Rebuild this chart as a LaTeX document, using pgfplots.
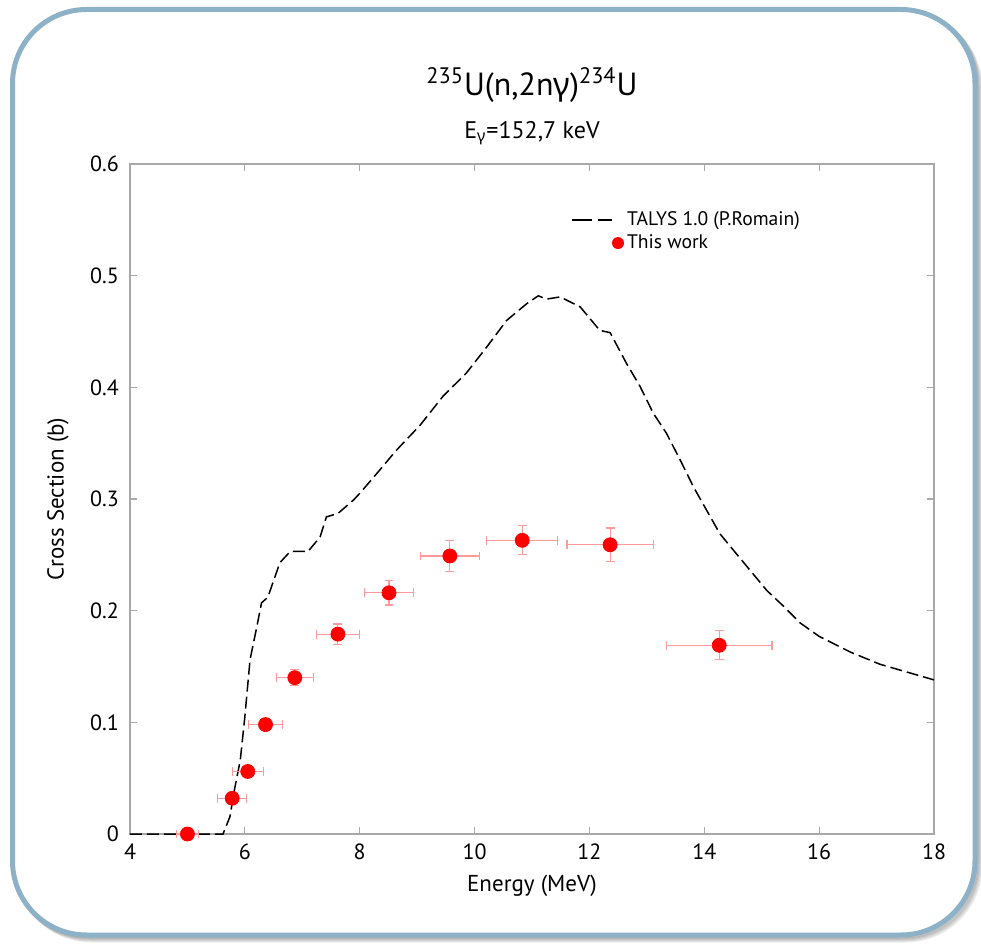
\documentclass[border=0pt]{standalone}
\usepackage{fontspec}
\setmainfont{PT Sans}
\newfontfamily\greekfont{Noto Sans}
\usepackage{pgfplots}
\usepackage{pgfplotstable}
\pgfplotsset{compat=1.18}
\usetikzlibrary{calc}

\definecolor{framecol}{HTML}{8DB1C6}
\definecolor{axgray}{HTML}{A8A8A8}
\definecolor{errred}{HTML}{FF9A9A}

\pgfplotstableread{
x y ex ey
5.00 0.000 0.19 0.002
5.78 0.032 0.25 0.003
6.05 0.056 0.27 0.004
6.36 0.098 0.29 0.005
6.87 0.140 0.32 0.007
7.62 0.179 0.37 0.009
8.51 0.216 0.43 0.011
9.57 0.249 0.51 0.014
10.83 0.263 0.62 0.013
12.36 0.259 0.75 0.015
14.26 0.169 0.92 0.013
}\expdata

\pgfplotstableread{
x y
4.00 0.000
5.62 0.000
5.74 0.0155
5.82 0.040
5.92 0.066
6.00 0.105
6.09 0.156
6.21 0.186
6.29 0.207
6.40 0.212
6.61 0.243
6.79 0.253
7.10 0.253
7.31 0.266
7.42 0.284
7.62 0.287
7.89 0.299
8.00 0.305
8.35 0.326
8.61 0.342
8.70 0.347
9.05 0.366
9.45 0.392
9.86 0.413
10.21 0.436
10.56 0.460
10.91 0.475
11.11 0.482
11.25 0.479
11.49 0.481
11.84 0.472
12.18 0.451
12.36 0.449
12.65 0.421
12.88 0.401
13.11 0.377
13.34 0.359
13.58 0.335
13.81 0.311
14.04 0.290
14.27 0.269
14.51 0.254
14.80 0.236
15.09 0.218
15.38 0.204
15.67 0.189
16.00 0.177
16.54 0.163
17.06 0.152
18.00 0.138
}\talys

\begin{document}
\begin{tikzpicture}
\useasboundingbox (0,0) rectangle (490.5pt,472pt);
% shadow
\foreach \i in {1,...,5}{
  \draw[black, opacity=0.07, line width=2.5pt, rounded corners=37pt]
    ($(6.25pt,4.5pt)+(0.5*\i pt,-0.5*\i pt)$) rectangle ($(487.5pt,467.25pt)+(0.5*\i pt,-0.5*\i pt)$);
}
\draw[framecol, line width=2.5pt, fill=white, rounded corners=37pt]
  (6.25pt,4.5pt) rectangle (487.5pt,467.25pt);

\begin{axis}[
  at={(65pt,55pt)}, anchor=south west,
  scale only axis, width=402pt, height=335pt,
  xmin=4, xmax=18, ymin=0, ymax=0.6,
  xtick={4,6,8,10,12,14,16,18},
  ytick={0,0.1,0.2,0.3,0.4,0.5,0.6},
  yticklabels={0,0.1,0.2,0.3,0.4,0.5,0.6},
  tick align=inside, major tick length=3.5pt,
  axis line style={axgray, line width=0.6pt},
  tick style={axgray, line width=0.6pt},
  ticklabel style={font=\fontsize{11}{13}\selectfont, black},
  /pgf/number format/assume math mode=true,
  xticklabel style={yshift=-1.5pt},
  yticklabel style={xshift=-2pt},
  xlabel={Energy (MeV)},
  ylabel={Cross Section (b)},
  label style={font=\fontsize{11.5}{13}\selectfont},
  xlabel style={at={(axis description cs:0.5,0)}, anchor=center, yshift=-26pt},
  ylabel style={at={(axis description cs:0,0.5)}, anchor=center, yshift=36pt},
  clip=false,
  legend style={draw=none, fill=none, at={(axis cs:13.70,0.5395)}, anchor=center,
    font=\fontsize{9.8}{11}\selectfont, row sep=0pt, inner sep=0pt,
    nodes={inner sep=1.5pt}},
  legend cell align=left,
]
\addplot[black, line width=0.75pt, dash pattern=on 6pt off 2.5pt,
  legend image code/.code={
    \path[draw=none, fill=none] (0pt,-3pt) rectangle (26pt,3pt);
    \draw[black, line width=0.8pt, solid] (0pt,0pt) -- (10pt,0pt);
    \draw[black, line width=0.8pt, solid] (13pt,0pt) -- (20pt,0pt);
  }] table[x=x,y=y] {\talys};
\addlegendentry{TALYS 1.0 (P.Romain)}

\addplot[only marks, mark=*, mark size=3.5pt, mark options={fill=red, draw=red},
  legend image code/.code={
    \path[draw=none, fill=none] (0pt,-3pt) rectangle (26pt,3pt);
    \fill[red, draw=none] (23pt,0pt) circle (3pt);
  },
  error bars/.cd, x dir=both, x explicit, y dir=both, y explicit,
  error bar style={errred, line width=0.6pt},
  error mark options={rotate=90, errred, mark size=2.2pt, line width=0.6pt}]
  table[x=x, y=y, x error=ex, y error=ey] {\expdata};
\addlegendentry{This work}
\end{axis}

\node[font=\fontsize{16}{18}\selectfont] at (266pt,429.5pt)
  {\textsuperscript{235}U(n,2n{\greekfont γ})\textsuperscript{234}U};
\node[font=\fontsize{12}{14}\selectfont] at (266pt,405.5pt)
  {E\textsubscript{\greekfont γ}=152,7 keV};
\end{tikzpicture}
\end{document}
